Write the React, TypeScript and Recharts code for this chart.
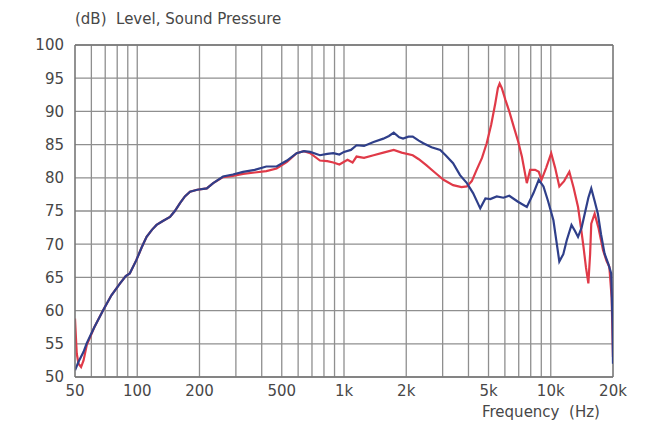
import React from 'react';
import { LineChart, Line, XAxis, YAxis, CartesianGrid, ReferenceLine } from 'recharts';

// frequency (Hz) and level (dB)
const blueFreq = [
  50, 52, 55, 57, 62, 68.5, 75, 82.6, 88, 92, 99, 105, 111, 118, 124, 133, 144, 152, 161, 170, 180, 195,
  217, 233, 260, 290, 325, 370, 421, 472, 530, 590, 640, 686, 765, 830, 888, 950, 1000, 1080, 1150, 1250,
  1390, 1550, 1650, 1740, 1850, 1930, 2050, 2150, 2300, 2420, 2650, 2920, 3100, 3370, 3640, 3930, 4210,
  4560, 4830, 5100, 5480, 5900, 6300, 6940, 7660, 8250, 8750, 9220, 9700, 10300, 10700, 11000, 11500,
  11950, 12600, 13100, 13550, 14100, 14600, 15200, 15700, 16300, 16900, 17500, 18200, 19000, 19600,
  19900, 20000,
];
const blueDb = [
  51.0, 52.3, 53.8, 55.1, 57.5, 60.1, 62.3, 64.1, 65.2, 65.6, 67.6, 69.5, 71.1, 72.2, 72.9, 73.5, 74.1,
  75.0, 76.2, 77.2, 77.9, 78.2, 78.4, 79.2, 80.2, 80.5, 80.9, 81.2, 81.7, 81.7, 82.6, 83.7, 84.0, 83.9,
  83.4, 83.6, 83.7, 83.5, 83.9, 84.2, 84.9, 84.8, 85.4, 85.9, 86.3, 86.8, 86.1, 85.9, 86.2, 86.2, 85.6,
  85.2, 84.6, 84.2, 83.4, 82.2, 80.4, 79.2, 77.7, 75.4, 76.9, 76.8, 77.2, 77.0, 77.3, 76.4, 75.6, 77.7,
  79.7, 78.7, 76.5, 73.6, 70.0, 67.4, 68.5, 70.6, 72.9, 72.0, 71.1, 72.5, 74.6, 77.0, 78.4, 76.5, 74.6,
  71.5, 68.6, 67.0, 65.6, 58.0, 52.0,
];

const redFreq = [
  50, 50.5, 51, 52, 53.5, 55, 57, 62, 68.5, 75, 82.6, 88, 92, 99, 105, 111, 118, 124, 133, 144, 152, 161,
  170, 180, 195, 217, 233, 260, 290, 325, 370, 421, 472, 530, 590, 640, 686, 765, 830, 888, 950, 1040,
  1100, 1150, 1250, 1390, 1550, 1740, 1900, 2150, 2300, 2500, 2750, 3030, 3370, 3700, 3930, 4150, 4380,
  4650, 4900, 5150, 5390, 5550, 5660, 5800, 6040, 6300, 6620, 6950, 7250, 7660, 7950, 8400, 8750, 9020,
  9500, 10050, 10500, 11000, 11600, 12300, 12900, 13550, 14000, 14400, 14800, 15200, 15500, 15700,
  16300, 17000, 17900, 18600, 19200, 19700, 20000,
];
const redDb = [
  58.8, 56.0, 53.5, 52.0, 51.5, 52.5, 54.8, 57.5, 60.1, 62.3, 64.1, 65.2, 65.6, 67.6, 69.5, 71.1, 72.2,
  72.9, 73.5, 74.1, 75.0, 76.2, 77.2, 77.9, 78.2, 78.4, 79.2, 80.1, 80.3, 80.6, 80.8, 81.0, 81.4, 82.4,
  83.7, 84.0, 83.7, 82.6, 82.5, 82.3, 82.0, 82.7, 82.3, 83.2, 83.0, 83.4, 83.8, 84.2, 83.8, 83.4, 82.8,
  81.9, 80.8, 79.7, 78.9, 78.6, 78.7, 79.5, 81.2, 83.0, 85.2, 88.0, 91.2, 93.5, 94.2, 93.5, 91.7, 90.0,
  87.7, 85.5, 83.2, 79.2, 81.2, 81.2, 80.9, 79.7, 81.5, 83.7, 81.5, 78.7, 79.5, 80.9, 78.5, 75.6, 72.5,
  69.6, 66.5, 64.1, 68.5, 73.1, 74.6, 72.5, 69.1, 67.5, 66.6, 62.0, 53.0,
];

const xTicks = [50, 100, 200, 500, 1000, 2000, 5000, 10000, 20000];
const xTickLabels = ['50', '100', '200', '500', '1k', '2k', '5k', '10k', '20k'];
const yTicks = [50, 55, 60, 65, 70, 75, 80, 85, 90, 95, 100];
const xGrid = [
  60, 70, 80, 90, 100, 200, 300, 400, 500, 600, 700, 800, 900, 1000, 2000, 3000, 4000, 5000, 6000,
  7000, 8000, 9000, 10000,
];

const blueData = blueFreq.map((f, i) => ({ f, db: blueDb[i] }));
const redData = redFreq.map((f, i) => ({ f, db: redDb[i] }));

const FONT = '"DejaVu Sans", Verdana, sans-serif';
const TEXT = '#474747';
const GRID = '#8f8f8f';
const FRAME = '#777';

export default function App() {
  return (
    <div style={{ position: 'fixed', left: 0, top: 0, width: 659, height: 426, background: '#fff' }}>
      <div
        style={{
          position: 'absolute', left: 75, top: 10, fontFamily: FONT, fontSize: 15, color: TEXT,
          whiteSpace: 'pre', lineHeight: '18px',
        }}
      >
        (dB)  Level, Sound Pressure
      </div>
      <div
        style={{
          position: 'absolute', left: 482, top: 403, fontFamily: FONT, fontSize: 15, color: TEXT,
          whiteSpace: 'pre', lineHeight: '18px',
        }}
      >
        Frequency  (Hz)
      </div>
      <LineChart width={659} height={426} margin={{ top: 45, right: 46, bottom: 0, left: 0 }}>
        <CartesianGrid vertical={false} stroke={GRID} strokeWidth={1.3} />
        {xGrid.map((v) => (
          <ReferenceLine key={v} x={v} stroke={GRID} strokeWidth={1.3} />
        ))}
        <ReferenceLine y={100} stroke={FRAME} strokeWidth={1.6} />
        <ReferenceLine x={20000} stroke={FRAME} strokeWidth={1.6} />
        <XAxis
          dataKey="f"
          type="number"
          scale="log"
          domain={[50, 20000]}
          ticks={xTicks}
          tickFormatter={(v: number) => xTickLabels[xTicks.indexOf(v)] ?? String(v)}
          allowDataOverflow
          height={49}
          tickSize={0}
          tickMargin={8}
          axisLine={{ stroke: FRAME, strokeWidth: 1.6 }}
          tick={{ fill: TEXT, fontSize: 15, fontFamily: FONT }}
        />
        <YAxis
          type="number"
          domain={[50, 100]}
          ticks={yTicks}
          width={75}
          tickSize={0}
          tickMargin={11}
          axisLine={{ stroke: FRAME, strokeWidth: 1.6 }}
          tick={{ fill: TEXT, fontSize: 15, fontFamily: FONT }}
        />
        <Line
          data={redData}
          dataKey="db"
          type="linear"
          stroke="#e03a48"
          strokeWidth={2.2}
          dot={false}
          isAnimationActive={false}
        />
        <Line
          data={blueData}
          dataKey="db"
          type="linear"
          stroke="#2f3f8a"
          strokeWidth={2.2}
          dot={false}
          isAnimationActive={false}
        />
      </LineChart>
    </div>
  );
}
